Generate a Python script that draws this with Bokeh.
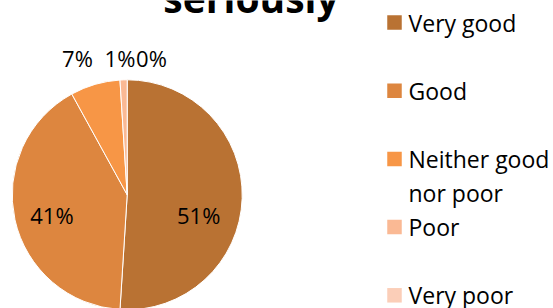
import math
from bokeh.plotting import figure
from bokeh.models import Range1d, ColumnDataSource
from bokeh.core.properties import value
from bokeh.embed import file_html
from bokeh.resources import INLINE

# ---- data ----
categories = ["Very good", "Good", "Neither good\nnor poor", "Poor", "Very poor"]
shares = [51, 41, 7, 1, 0]
colors = ["#B97233", "#DD863F", "#F79646", "#FAB994", "#FBCEB8"]
title_text = "seriously"

# ---- layout (screen px) ----
W, H = 553, 308
FONT = "Open Sans"
cx, cy, R = 126.7, H - 194.3, 115.0

p = figure(width=W, height=H, output_backend="svg", toolbar_location=None,
           x_range=Range1d(0, W), y_range=Range1d(0, H), min_border=0)
p.axis.visible = False
p.xgrid.visible = False
p.ygrid.visible = False
p.outline_line_color = None
p.background_fill_color = "white"
p.border_fill_color = "white"

total = float(sum(shares))
starts, ends, mids, wcols = [], [], [], []
cum = 0.0
for v, c in zip(shares, colors):
    f0 = cum / total
    cum += v
    f1 = cum / total
    mids.append(2 * math.pi * (f0 + f1) / 2)  # clockwise from top
    if v > 0:
        starts.append(math.pi / 2 - 2 * math.pi * f1)
        ends.append(math.pi / 2 - 2 * math.pi * f0)
        wcols.append(c)

src = ColumnDataSource(dict(start=starts, end=ends, color=wcols))
p.wedge(x=cx, y=cy, radius=R, start_angle="start", end_angle="end",
        fill_color="color", line_color="white", line_width=1, source=src)

# data labels
nudges = [(-3.2, -18.2), (-2.3, -4.1), (-11.5, 0), (-2.9, 0), (24.3, 0)]
lx, ly, lt = [], [], []
for v, m, (ndx, ndy) in zip(shares, mids, nudges):
    if v / total > 0.1:
        r = 0.65 * R
        x = cx + r * math.sin(m)
        y = cy + r * math.cos(m)
    else:
        x = cx + (R + 22) * math.sin(m)
        y = cy + R + 22
    lx.append(x + ndx)
    ly.append(y + ndy)
    lt.append(f"{v}%")
p.text(x=lx, y=ly, text=lt, text_font=value(FONT), text_font_size="22px",
       text_align="center", text_baseline="middle", text_color="#000000")

# title (only its last line is visible)
p.text(x=[250.5], y=[H - 23], text=[title_text], text_font=value(FONT),
       text_font_size="39px", text_font_style="bold", text_align="center",
       text_baseline="bottom", text_color="#000000")

# legend
sq_x, txt_x, row0, row_gap, line_gap = 394.0, 408.0, H - 22.0, 68.2, 34.0
sq_cx, sq_cy, tx, ty, tt = [], [], [], [], []
for i, c in enumerate(categories):
    yc = row0 - i * row_gap
    sq_cx.append(sq_x)
    sq_cy.append(yc)
    for j, line in enumerate(c.split("\n")):
        tx.append(txt_x)
        ty.append(yc - j * line_gap)
        tt.append(line)
p.rect(x=sq_cx, y=sq_cy, width=14.5, height=14.5, fill_color=colors, line_color=None)
p.text(x=tx, y=ty, text=tt, text_font=value(FONT), text_font_size="23px",
       text_align="left", text_baseline="middle", text_color="#000000")

open("out.html", "w").write(file_html(p, INLINE))
